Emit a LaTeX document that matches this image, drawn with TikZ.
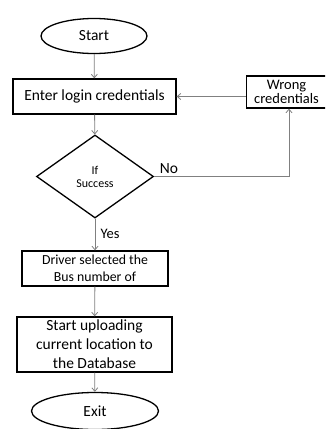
\documentclass[tikz,border=0pt]{standalone}
\usepackage{fontspec}
\setmainfont{Carlito}
\usetikzlibrary{shapes.geometric,arrows.meta,calc}

\tikzset{
  box/.style={draw=black, line width=1.3pt, rectangle, inner sep=0pt, align=center},
  terminal/.style={draw=black, line width=1.3pt, ellipse, inner sep=0pt},
  decision/.style={draw=black, line width=1.3pt, diamond, inner sep=0pt, align=center},
  flow/.style={draw=black!50, line width=0.8pt, -{Straight Barb[length=3.5pt,width=6pt]}},
  lbl/.style={inner sep=0pt},
  big/.style={font=\fontsize{15.5}{19}\selectfont},
  mid/.style={font=\fontsize{14.5}{14}\selectfont},
  small/.style={font=\fontsize{13.8}{17.5}\selectfont},
  tiny/.style={font=\fontsize{12}{13}\selectfont},
}

\begin{document}
\begin{tikzpicture}[x=1pt,y=-1pt]
  \useasboundingbox (0,0) rectangle (325,429);
  \clip (0,0) rectangle (325,429);

  % process steps
  \node[terminal, big, minimum width=106pt, minimum height=35pt] (start) at (94,36) {Start};
  \node[box, big, minimum width=163pt, minimum height=35pt] (enter) at (94.5,96.5) {Enter login credentials};
  \node[box, mid, minimum width=80pt, minimum height=32pt] (wrong) at (286.5,92) {Wrong\\credentials};
  \node[decision, tiny, minimum width=117pt, minimum height=83pt] (dec) at (95,176.5) {If\\Success};
  \node[box, small, minimum width=146pt, minimum height=35pt] (driver) at (95,268.5) {Driver selected the\\Bus number of};
  \node[box, big, minimum width=155pt, minimum height=55pt] (upload) at (94.5,344.5) {Start uploading\\current location to\\the Database};
  \node[terminal, big, minimum width=127pt, minimum height=37pt] (exit) at (95,411) {Exit};

  % connectors
  \coordinate (wrongin) at ($(wrong.south)+(2.5,0)$);
  \draw[flow] (start) -- (enter);
  \draw[flow] (enter) -- (dec);
  \draw[flow] (wrong.west |- enter.east) -- (enter.east);
  \draw[flow] (dec.east) -- (wrongin |- dec.east) -- (wrongin);
  \draw[flow] (dec) -- (driver);
  \draw[flow] (driver) -- (upload);
  \draw[flow] (upload) -- (exit);

  % branch labels
  \node[lbl, big] (no) at (169,169) {No};
  \node[lbl, mid] (yes) at (110,234) {Yes};
\end{tikzpicture}
\end{document}
